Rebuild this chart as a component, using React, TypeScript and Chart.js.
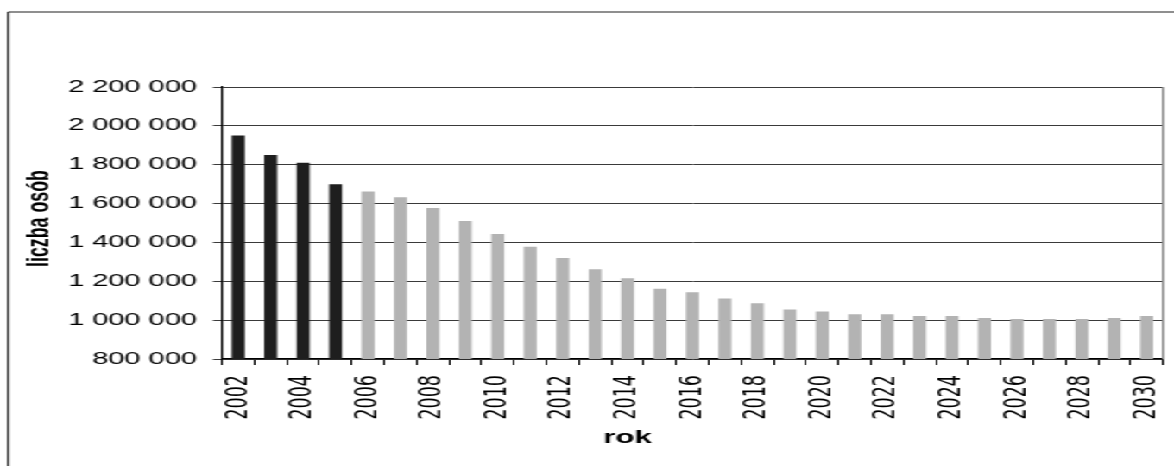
import React, { useEffect, useRef } from "react";
import { Chart, registerables } from "chart.js";

Chart.register(...registerables);

// Years on the category axis
const years: string[] = [
  "2002", "2003", "2004", "2005", "2006", "2007", "2008", "2009", "2010",
  "2011", "2012", "2013", "2014", "2015", "2016", "2017", "2018", "2019",
  "2020", "2021", "2022", "2023", "2024", "2025", "2026", "2027", "2028",
  "2029", "2030",
];

// Recorded population (dark bars)
const observed: (number | null)[] = [
  1950000, 1850000, 1810000, 1700000,
  null, null, null, null, null, null, null, null, null, null, null, null,
  null, null, null, null, null, null, null, null, null, null, null, null, null,
];

// Projected population (grey bars)
const projected: (number | null)[] = [
  null, null, null, null,
  1662000, 1633000, 1577000, 1510000, 1444000, 1378000, 1320000, 1262000,
  1215000, 1162000, 1143000, 1111000, 1087000, 1055000, 1045000, 1030000,
  1030000, 1021000, 1021000, 1011000, 1006000, 1006000, 1006000, 1011000,
  1021000,
];

const yMin = 800000;
const yMax = 2200000;
const yStep = 200000;

const yTitle = "liczba osób";
const xTitle = "rok";

// The drawing is made on a narrow canvas and stretched sideways.
const CANVAS_W = 680;
const CANVAS_H = 466;
const STRETCH = 1174 / CANVAS_W;

const fmt = (v: number) =>
  String(Math.round(v)).replace(/\B(?=(\d{3})+(?!\d))/g, " ");

const framePlugin = {
  id: "frame",
  beforeDraw(chart: any) {
    const { ctx, width, height } = chart;
    ctx.save();
    ctx.strokeStyle = "#6a6a6a";
    ctx.lineWidth = 1.6;
    ctx.beginPath();
    ctx.moveTo(width, 12);
    ctx.lineTo(4.7, 12);
    ctx.stroke();
    ctx.strokeStyle = "#2a2a2a";
    ctx.lineWidth = 1.2;
    ctx.beginPath();
    ctx.moveTo(4.7, 12);
    ctx.lineTo(4.7, height);
    ctx.stroke();
    ctx.restore();
  },
  afterDraw(chart: any) {
    const { ctx, chartArea } = chart;
    const { left, right, top, bottom } = chartArea;
    ctx.save();
    // right edge of the plot area
    ctx.strokeStyle = "#8a8a8a";
    ctx.lineWidth = 1.2;
    ctx.beginPath();
    ctx.moveTo(right, top);
    ctx.lineTo(right, bottom);
    ctx.stroke();

    ctx.fillStyle = "#000";
    ctx.textAlign = "center";
    ctx.textBaseline = "middle";

    // vertical axis caption
    ctx.save();
    ctx.translate(left - 105.4, (top + bottom) / 2 - 4.5);
    ctx.rotate(-Math.PI / 2);
    ctx.font = "bold 17.8px 'Liberation Sans', Arial, sans-serif";
    ctx.fillText(yTitle, 0, 0);
    ctx.restore();

    // horizontal axis caption
    ctx.font = "bold 18px 'Liberation Sans', Arial, sans-serif";
    ctx.fillText(xTitle, (left + right) / 2 - 37.6, bottom + 79);
    ctx.restore();
  },
};

export default function App() {
  const ref = useRef<HTMLCanvasElement | null>(null);

  useEffect(() => {
    if (!ref.current) return;
    const chart = new Chart(ref.current, {
      type: "bar",
      data: {
        labels: years,
        datasets: [
          {
            label: "dane",
            data: observed,
            backgroundColor: "#1e1e1e",
            borderWidth: 0,
            grouped: false,
            barPercentage: 0.4,
            categoryPercentage: 1,
          } as any,
          {
            label: "prognoza",
            data: projected,
            backgroundColor: "#b3b3b3",
            borderWidth: 0,
            grouped: false,
            barPercentage: 0.4,
            categoryPercentage: 1,
          } as any,
        ],
      },
      options: {
        responsive: false,
        animation: false,
        devicePixelRatio: 1,
        layout: { padding: { top: 87, right: 6.4, bottom: 0, left: 0 } },
        plugins: {
          legend: { display: false },
          tooltip: { enabled: false },
          title: { display: false },
        },
        scales: {
          x: {
            offset: true,
            grid: {
              display: true,
              drawOnChartArea: false,
              drawTicks: true,
              tickLength: 6,
              color: "#000",
              offset: true,
            },
            border: { display: true, color: "#000", width: 1.2 },
            ticks: {
              autoSkip: false,
              minRotation: 90,
              maxRotation: 90,
              padding: 10,
              color: "#000",
              font: { family: "'DejaVu Sans', sans-serif", size: 17.5 },
              callback: (_v: any, i: number) => (i % 2 === 0 ? years[i] : ""),
            },
            afterFit: (scale: any) => {
              scale.height = CANVAS_H - 359;
              scale.paddingLeft = 0;
              scale.paddingRight = 0;
            },
          },
          y: {
            min: yMin,
            max: yMax,
            grid: {
              color: "#3a3a3a",
              lineWidth: 1,
              drawTicks: true,
              tickLength: 5.2,
            },
            border: { display: true, color: "#000", width: 1.2 },
            ticks: {
              stepSize: yStep,
              padding: 9.3,
              color: "#000",
              font: { family: "'Liberation Sans', Arial, sans-serif", size: 16.8 },
              callback: (v: any) => fmt(Number(v)),
            },
            afterFit: (scale: any) => {
              scale.width = 128.6;
            },
          },
        },
      },
      plugins: [framePlugin],
    });
    return () => chart.destroy();
  }, []);

  return (
    <div
      style={{
        position: "absolute",
        left: 0,
        top: 0,
        width: CANVAS_W,
        height: CANVAS_H,
        background: "#fff",
        transform: `scaleX(${STRETCH})`,
        transformOrigin: "0 0",
      }}
    >
      <canvas ref={ref} width={CANVAS_W} height={CANVAS_H} />
    </div>
  );
}
